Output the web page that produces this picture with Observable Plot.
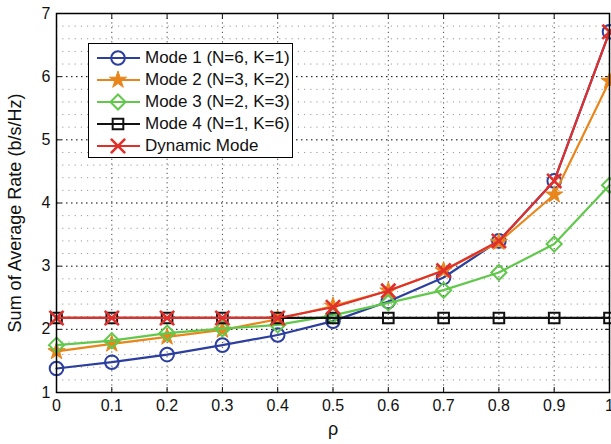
<!DOCTYPE html>
<html><head><meta charset="utf-8">
<script src="https://cdn.jsdelivr.net/npm/d3@7"></script>
<script src="https://cdn.jsdelivr.net/npm/@observablehq/plot@0.6"></script>
<style>
body{margin:0;background:#fff;}
#wrap{position:relative;width:611px;height:444px;font-family:"Liberation Sans",Arial,sans-serif;}
#legend{position:absolute;left:88px;top:43px;width:203px;height:113px;border:1.5px solid #000;background:#fff;}
.row{position:absolute;left:0;height:22px;width:203px;}
.row svg{position:absolute;left:0;top:0;}
.row span{position:absolute;left:56px;top:1px;font-size:17px;line-height:19px;color:#111;white-space:nowrap;}
</style>
</head><body>
<div id="wrap"><div id="chart"></div><div id="legend"></div></div>
<script>
const rho = [0, 0.1, 0.2, 0.3, 0.4, 0.5, 0.6, 0.7, 0.8, 0.9, 1];
const mode1 = [1.38, 1.48, 1.60, 1.75, 1.91, 2.13, 2.44, 2.82, 3.40, 4.35, 6.71];
const mode2 = [1.65, 1.77, 1.88, 1.99, 2.16, 2.37, 2.61, 2.93, 3.38, 4.13, 5.93];
const mode3 = [1.75, 1.82, 1.94, 2.01, 2.07, 2.22, 2.42, 2.62, 2.90, 3.35, 4.28];
const mode4 = [2.18, 2.18, 2.18, 2.18, 2.18, 2.18, 2.18, 2.18, 2.18, 2.18, 2.18];
const dynamicMode = [2.18, 2.18, 2.18, 2.18, 2.18, 2.35, 2.61, 2.93, 3.40, 4.35, 6.71];

const seriesNames = ["Mode 1 (N=6, K=1)", "Mode 2 (N=3, K=2)", "Mode 3 (N=2, K=3)", "Mode 4 (N=1, K=6)", "Dynamic Mode"];
const seriesValues = [mode1, mode2, mode3, mode4, dynamicMode];
const xTicks = [0, 0.1, 0.2, 0.3, 0.4, 0.5, 0.6, 0.7, 0.8, 0.9, 1];
const yTicks = [1, 2, 3, 4, 5, 6, 7];
const yMinor = [1.2,1.4,1.6,1.8,2.2,2.4,2.6,2.8,3.2,3.4,3.6,3.8,4.2,4.4,4.6,4.8,5.2,5.4,5.6,5.8,6.2,6.4,6.6,6.8];
const xLabel = "ρ";
const yLabel = "Sum of Average Rate (b/s/Hz)";

const styles = [
  {color: "#2c3e9e", symbol: "circle", r: 6.8, fill: "none", sw: 2},
  {color: "#e8861c", symbol: "star", r: 5.4, fill: "#e8861c", sw: 1},
  {color: "#62c84c", symbol: "diamond2", r: 6.8, fill: "none", sw: 2},
  {color: "#111111", symbol: "square", r: 6, fill: "none", sw: 2},
  {color: "#e0302c", symbol: "times", r: 6.5, fill: "none", sw: 2.6}
];

const seriesMarks = [];
seriesValues.forEach((vals, i) => {
  const s = styles[i];
  const data = rho.map((x, j) => ({x, y: vals[j]}));
  seriesMarks.push(Plot.line(data, {x: "x", y: "y", stroke: s.color, strokeWidth: 2.2}));
  seriesMarks.push(Plot.dot(data, {x: "x", y: "y", symbol: s.symbol, r: s.r, stroke: s.color, fill: s.fill, strokeWidth: s.sw}));
});

const chart = Plot.plot({
  width: 611, height: 444,
  marginLeft: 56, marginRight: 2, marginTop: 13, marginBottom: 52,
  x: {domain: [0, 1]},
  y: {domain: [1, 7]},
  style: {fontFamily: "'Liberation Sans', Arial, sans-serif", fontSize: "16px", background: "#fff", color: "#111", display: "block"},
  marks: [
    Plot.gridY(yMinor, {stroke: "#9a9a9a", strokeOpacity: 1, strokeDasharray: "1.2,5"}),
    Plot.gridY(yTicks, {stroke: "#000", strokeOpacity: 1, strokeDasharray: "1.5,3.5"}),
    Plot.gridX(xTicks, {stroke: "#444", strokeOpacity: 1, strokeDasharray: "1.2,3.5"}),
    Plot.axisX(xTicks, {anchor: "bottom", tickSize: 0, tickPadding: 7, label: null, tickFormat: d => String(d)}),
    Plot.axisX(xTicks, {anchor: "bottom", tickSize: -5, tickFormat: () => "", label: null}),
    Plot.axisX(xTicks, {anchor: "top", tickSize: -5, tickFormat: () => "", label: null}),
    Plot.axisY(yTicks, {anchor: "left", tickSize: 0, tickPadding: 6, label: null, tickFormat: d => String(d)}),
    Plot.axisY(yTicks, {anchor: "left", tickSize: -5, tickFormat: () => "", label: null}),
    Plot.axisY(yTicks, {anchor: "right", tickSize: -5, tickFormat: () => "", label: null}),
    ...seriesMarks,
    Plot.frame({stroke: "#000", strokeWidth: 1.5}),
    Plot.text([xLabel], {frameAnchor: "bottom", dy: 42, fontSize: 18}),
    Plot.text([yLabel], {frameAnchor: "left", textAnchor: "middle", dx: -41, rotate: -90, fontSize: 18, dy: 10})
  ]
});
document.getElementById("chart").appendChild(chart);

// legend
const legend = document.getElementById("legend");
seriesNames.forEach((name, i) => {
  const s = styles[i];
  const row = document.createElement("div");
  row.className = "row";
  row.style.top = (3 + i * 22) + "px";
  const sym = {circle: d3.symbolCircle, star: d3.symbolStar, diamond2: d3.symbolDiamond2, square: d3.symbolSquare, times: d3.symbolTimes}[s.symbol];
  const path = d3.symbol().type(sym).size(Math.PI * s.r * s.r)();
  row.innerHTML = `<svg width="56" height="22"><line x1="8" x2="51" y1="11" y2="11" stroke="${s.color}" stroke-width="2.2"/>` +
    `<path transform="translate(29,11)" d="${path}" stroke="${s.color}" fill="${s.fill}" stroke-width="${s.sw}"/></svg><span>${name}</span>`;
  legend.appendChild(row);
});
</script>
</body></html>
